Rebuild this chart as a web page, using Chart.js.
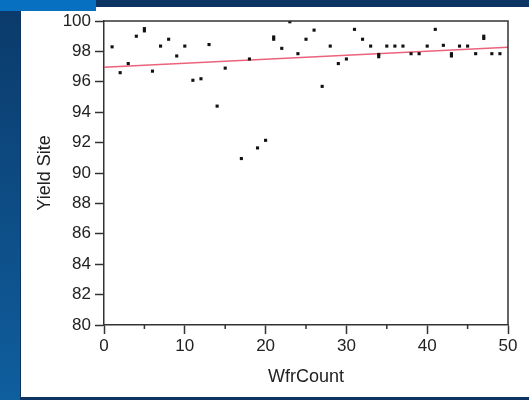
<!DOCTYPE html>
<html>
<head>
<meta charset="utf-8">
<script src="https://cdn.jsdelivr.net/npm/chart.js@4"></script>
<style>
  html, body { margin: 0; padding: 0; background: #0d3563; }
  #chart { display: block; }
</style>
</head>
<body>
<canvas id="chart" width="529" height="400"></canvas>
<script>
// dados
const wfrCount = [1, 2, 3, 4, 5, 5, 6, 7, 8, 9, 10, 11, 12, 13, 14, 15, 17, 18, 19, 20,
  21, 21, 22, 23, 24, 25, 26, 27, 28, 29, 30, 31, 32, 33, 34, 34, 35, 36, 37, 38, 39,
  40, 41, 42, 43, 43, 44, 45, 46, 47, 47, 48, 49];
const yieldSite = [98.3, 96.6, 97.2, 99.0, 99.35, 99.5, 96.7, 98.35, 98.8, 97.7, 98.35, 96.1, 96.2, 98.45, 94.4, 96.9, 90.95, 97.5, 91.65, 92.15,
  98.8, 98.95, 98.2, 99.95, 97.85, 98.8, 99.4, 95.7, 98.35, 97.2, 97.5, 99.45, 98.8, 98.35, 97.65, 97.8, 98.35, 98.35, 98.35, 97.85, 97.85,
  98.35, 99.45, 98.4, 97.7, 97.85, 98.35, 98.35, 97.85, 98.85, 99.0, 97.85, 97.85];

// linha de ajuste (extremos)
const fitX = [0, 50];
const fitY = [96.95, 98.27];

const xTicks = [0, 10, 20, 30, 40, 50];
const xMinorTicks = [5, 15, 25, 35, 45];
const yRange = [80, 100];

const pontos = wfrCount.map((x, i) => ({ x: x, y: yieldSite[i] }));
const ajuste = fitX.map((x, i) => ({ x: x, y: fitY[i] }));

const fundo = {
  id: 'fundo',
  beforeDraw(chart) {
    const c = chart.ctx;
    c.save();
    c.fillStyle = '#0d3563';
    c.fillRect(0, 0, 529, 400);
    const g = c.createLinearGradient(0, 0, 0, 400);
    g.addColorStop(0, '#0b3a6a');
    g.addColorStop(1, '#0f5e9e');
    c.fillStyle = g;
    c.fillRect(0, 0, 20, 400);
    c.fillStyle = '#ffffff';
    c.fillRect(21, 7, 508, 390);
    c.fillStyle = '#0870c0';
    c.fillRect(0, 0, 96, 11);
    c.restore();
  },
  afterDraw(chart) {
    const c = chart.ctx;
    const a = chart.chartArea;
    const xs = chart.scales.x;
    c.save();
    c.strokeStyle = '#333';
    c.lineWidth = 1.5;
    c.beginPath();
    c.moveTo(a.left, a.top);
    c.lineTo(a.right, a.top);
    c.lineTo(a.right, a.bottom);
    c.stroke();
    c.beginPath();
    xMinorTicks.forEach(v => {
      const px = xs.getPixelForValue(v);
      c.moveTo(px, a.bottom);
      c.lineTo(px, a.bottom + 4);
    });
    c.stroke();
    c.restore();
  }
};

new Chart(document.getElementById('chart'), {
  type: 'scatter',
  data: {
    datasets: [
      { data: ajuste, type: 'line', borderColor: 'rgba(232, 70, 100, 0.85)', borderWidth: 1.5, pointRadius: 0, fill: false, order: 2 },
      { data: pontos, pointStyle: 'rect', pointRadius: 2.2, backgroundColor: '#111', borderWidth: 0, order: 1 }
    ]
  },
  options: {
    responsive: false,
    animation: false,
    devicePixelRatio: 1,
    layout: { padding: { left: 20, top: 21, right: 21, bottom: 3 } },
    plugins: { legend: { display: false }, tooltip: { enabled: false } },
    scales: {
      x: {
        type: 'linear',
        min: 0, max: 50,
        afterBuildTicks: s => { s.ticks = xTicks.map(v => ({ value: v })); },
        afterFit: s => { s.height = 72; },
        grid: { drawOnChartArea: false, drawTicks: true, tickLength: 9, tickColor: '#333', tickWidth: 1.5 },
        border: { display: true, color: '#333', width: 1.5 },
        ticks: { color: '#222', font: { family: 'Liberation Sans, Arial', size: 17 }, padding: 2 },
        title: { display: true, text: 'WfrCount', color: '#222', font: { family: 'Liberation Sans, Arial', size: 18 }, padding: { top: 0, bottom: 9 } }
      },
      y: {
        min: yRange[0], max: yRange[1],
        ticks: { stepSize: 2, color: '#222', font: { family: 'Liberation Sans, Arial', size: 17 }, padding: 4 },
        afterFit: s => { s.width = 84; },
        grid: { drawOnChartArea: false, drawTicks: true, tickLength: 9, tickColor: '#333', tickWidth: 1.5 },
        border: { display: true, color: '#333', width: 1.5 },
        title: { display: true, text: 'Yield Site', color: '#222', font: { family: 'Liberation Sans, Arial', size: 18 }, padding: { top: 14, bottom: 0 } }
      }
    }
  },
  plugins: [fundo]
});
</script>
</body>
</html>
